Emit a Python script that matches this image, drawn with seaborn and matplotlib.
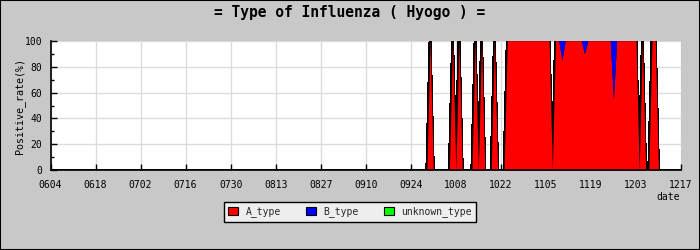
import numpy as np
import pandas as pd
import matplotlib
matplotlib.use("Agg")
import matplotlib.pyplot as plt
from matplotlib.patches import Patch, Rectangle
import seaborn as sns

# ---------------- data ----------------
start_date = "2009-06-04"
end_date = "2009-12-17"
tick_labels = ["0604", "0618", "0702", "0716", "0730", "0813", "0827", "0910",
               "0924", "1008", "1022", "1105", "1119", "1203", "1217"]
series_names = ["A_type", "B_type", "unknown_type"]
series_colors = ["#ff0000", "#0000ff", "#00ff00"]

# daily positive rate (%), one row = two weeks starting at each tick date
a_type = [
    0, 0, 0, 0, 0, 0, 0, 0, 0, 0, 0, 0, 0, 0,          # 0604
    0, 0, 0, 0, 0, 0, 0, 0, 0, 0, 0, 0, 0, 0,          # 0618
    0, 0, 0, 0, 0, 0, 0, 0, 0, 0, 0, 0, 0, 0,          # 0702
    0, 0, 0, 0, 0, 0, 0, 0, 0, 0, 0, 0, 0, 0,          # 0716
    0, 0, 0, 0, 0, 0, 0, 0, 0, 0, 0, 0, 0, 0,          # 0730
    0, 0, 0, 0, 0, 0, 0, 0, 0, 0, 0, 0, 0, 0,          # 0813
    0, 0, 0, 0, 0, 0, 0, 0, 0, 0, 0, 0, 0, 0,          # 0827
    0, 0, 0, 0, 0, 0, 0, 0, 0, 0, 0, 0, 0, 0,          # 0910
    0, 0, 0, 0, 0, 0, 100, 0, 0, 0, 0, 0, 0, 100,      # 0924
    0, 100, 0, 0, 0, 0, 100, 0, 100, 0, 0, 0, 100, 0,  # 1008
    0, 0, 100, 100, 100, 100, 100, 100, 100, 100, 100, 100, 100, 100,  # 1022
    100, 100, 0, 100, 100, 85, 100, 100, 100, 100, 100, 100, 90, 100,  # 1105
    100, 100, 100, 100, 100, 100, 100, 55, 100, 100, 100, 100, 100, 100,  # 1119
    100, 0, 100, 0, 0, 100, 100, 0, 0, 0, 0, 0, 0, 0,  # 1203
    0,                                                 # 1217
]
b_type = [
    0, 0, 0, 0, 0, 0, 0, 0, 0, 0, 0, 0, 0, 0,
    0, 0, 0, 0, 0, 0, 0, 0, 0, 0, 0, 0, 0, 0,
    0, 0, 0, 0, 0, 0, 0, 0, 0, 0, 0, 0, 0, 0,
    0, 0, 0, 0, 0, 0, 0, 0, 0, 0, 0, 0, 0, 0,
    0, 0, 0, 0, 0, 0, 0, 0, 0, 0, 0, 0, 0, 0,
    0, 0, 0, 0, 0, 0, 0, 0, 0, 0, 0, 0, 0, 0,
    0, 0, 0, 0, 0, 0, 0, 0, 0, 0, 0, 0, 0, 0,
    0, 0, 0, 0, 0, 0, 0, 0, 0, 0, 0, 0, 0, 0,
    0, 0, 0, 0, 0, 0, 0, 0, 0, 0, 0, 0, 0, 0,
    0, 0, 0, 0, 0, 0, 0, 0, 0, 0, 0, 0, 0, 0,
    0, 0, 0, 0, 0, 0, 0, 0, 0, 0, 0, 0, 0, 0,
    0, 0, 0, 0, 0, 15, 0, 0, 0, 0, 0, 0, 10, 0,
    0, 0, 0, 0, 0, 0, 0, 45, 0, 0, 0, 0, 0, 0,
    0, 0, 0, 0, 0, 0, 0, 0, 0, 0, 0, 0, 0, 0,
    0,
]
unknown_type = [
    0, 0, 0, 0, 0, 0, 0, 0, 0, 0, 0, 0, 0, 0,
    0, 0, 0, 0, 0, 0, 0, 0, 0, 0, 0, 0, 0, 0,
    0, 0, 0, 0, 0, 0, 0, 0, 0, 0, 0, 0, 0, 0,
    0, 0, 0, 0, 0, 0, 0, 0, 0, 0, 0, 0, 0, 0,
    0, 0, 0, 0, 0, 0, 0, 0, 0, 0, 0, 0, 0, 0,
    0, 0, 0, 0, 0, 0, 0, 0, 0, 0, 0, 0, 0, 0,
    0, 0, 0, 0, 0, 0, 0, 0, 0, 0, 0, 0, 0, 0,
    0, 0, 0, 0, 0, 0, 0, 0, 0, 0, 0, 0, 0, 0,
    0, 0, 0, 0, 0, 0, 0, 0, 0, 0, 0, 0, 0, 0,
    0, 0, 0, 0, 0, 0, 0, 0, 0, 0, 0, 0, 0, 0,
    0, 0, 0, 0, 0, 0, 0, 0, 0, 0, 0, 0, 0, 0,
    0, 0, 0, 0, 0, 0, 0, 0, 0, 0, 0, 0, 0, 0,
    0, 0, 0, 0, 0, 0, 0, 0, 0, 0, 0, 0, 0, 0,
    0, 0, 0, 0, 0, 0, 0, 0, 0, 0, 0, 0, 0, 0,
    0,
]

dates = pd.date_range(start_date, end_date, freq="D")
df = pd.DataFrame({"date": dates, "A_type": a_type, "B_type": b_type,
                   "unknown_type": unknown_type})
df["cum_a"] = df["A_type"]
df["cum_ab"] = df["A_type"] + df["B_type"]
df["cum_all"] = df["cum_ab"] + df["unknown_type"]
tick_dates = pd.date_range(start_date, end_date, freq="14D")

# ---------------- style ----------------
sns.set_theme(style="white")
plt.rcParams["font.family"] = ["DejaVu Sans Mono"]
bg = "#c8c8c8"

fig = plt.figure(figsize=(7, 2.5), dpi=100, facecolor=bg)
W, H = 700.0, 250.0
left, right, top, bottom = 50.5, 681.0, 40.7, 170.3
ax = fig.add_axes([left / W, 1 - bottom / H, (right - left) / W, (bottom - top) / H])
ax.set_facecolor("white")

# black outlines of the stacked layers (drawn under the fills)
for col in ["cum_a", "cum_ab", "cum_all"]:
    sns.lineplot(data=df, x="date", y=col, color="black", linewidth=1.5,
                 ax=ax, zorder=3, antialiased=False)

polys = ax.stackplot(df["date"], df["A_type"], df["B_type"], df["unknown_type"],
                     colors=series_colors, linewidth=0, zorder=4)
for p in polys:
    p.set_antialiased(False)

ax.set_xlim(dates[0], dates[-1])
ax.set_ylim(0, 100)
ax.set_xticks(tick_dates)
ax.set_xticklabels(tick_labels)
ax.set_yticks([0, 20, 40, 60, 80, 100])
ax.set_yticks([10, 30, 50, 70, 90], minor=True)
ax.set_axisbelow(True)
ax.grid(True, which="major", color="#dcdcdc", linewidth=1.0, zorder=0)

for s in ["top", "right"]:
    ax.spines[s].set_visible(False)
for s in ["left", "bottom"]:
    ax.spines[s].set_color("black")
    ax.spines[s].set_linewidth(1.2)
    ax.spines[s].set_zorder(5)

ax.tick_params(axis="x", which="major", bottom=True, direction="in", length=4,
               width=1, color="black", pad=7, labelsize=7, labelcolor="black")
ax.tick_params(axis="y", which="major", left=True, direction="in", length=4,
               width=1, color="black", pad=6, labelsize=7, labelcolor="black")
ax.tick_params(axis="y", which="minor", left=True, direction="in", length=2.5,
               width=1, color="black")
ax.set_xlabel("")
ax.set_ylabel("")

fig.text(0.5, 1 - 13 / H, "= Type of Influenza ( Hyogo ) =", ha="center",
         va="center", fontsize=10.5, fontweight="bold", color="black")
fig.text(20 / W, 1 - 106 / H, "Positive_rate(%)", rotation=90, ha="center",
         va="center", fontsize=7.2, color="black")
fig.text(668 / W, 1 - 197 / H, "date", ha="center", va="center", fontsize=7,
         color="black")

handles = [Patch(facecolor=c, edgecolor="black", linewidth=0.8) for c in series_colors]
leg = fig.legend(handles, series_names, loc="upper center",
                 bbox_to_anchor=(350 / W, 1 - 197 / H), ncol=3, frameon=True,
                 fancybox=False, edgecolor="black", facecolor="#eeeeee",
                 framealpha=1, handlelength=1.0, handleheight=1.0, fontsize=7,
                 columnspacing=2.6, handletextpad=0.8, borderpad=0.45)
leg.get_frame().set_linewidth(1.0)

fig.patches.append(Rectangle((0, 0), 1, 1, transform=fig.transFigure, fill=False,
                             edgecolor="black", linewidth=1.5))

fig.savefig("out.png", dpi=100, facecolor=bg)
